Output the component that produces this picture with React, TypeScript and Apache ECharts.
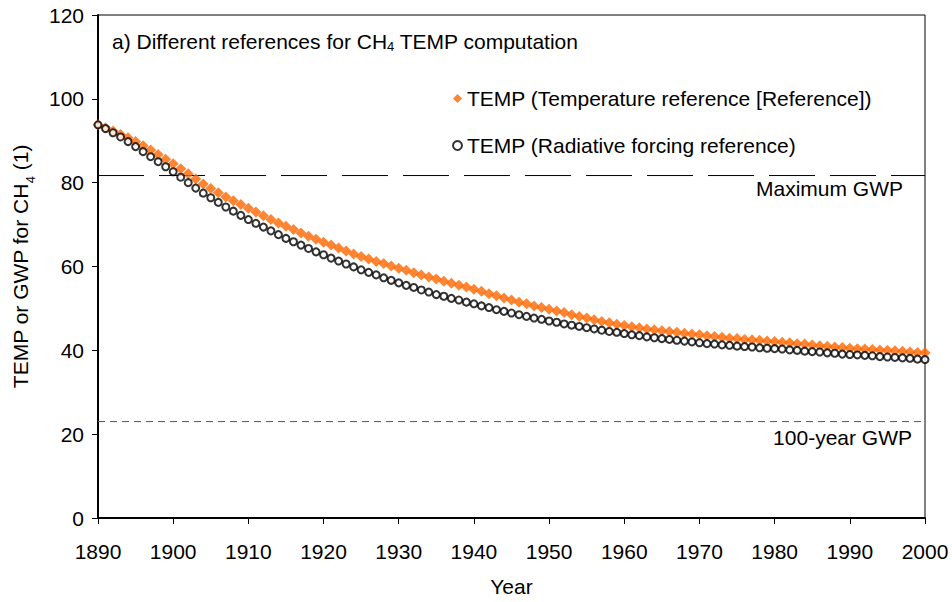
import React, { useEffect, useRef } from "react";
import * as echarts from "echarts";

const years = [
  1890, 1891, 1892, 1893, 1894, 1895, 1896, 1897, 1898, 1899,
  1900, 1901, 1902, 1903, 1904, 1905, 1906, 1907, 1908, 1909,
  1910, 1911, 1912, 1913, 1914, 1915, 1916, 1917, 1918, 1919,
  1920, 1921, 1922, 1923, 1924, 1925, 1926, 1927, 1928, 1929,
  1930, 1931, 1932, 1933, 1934, 1935, 1936, 1937, 1938, 1939,
  1940, 1941, 1942, 1943, 1944, 1945, 1946, 1947, 1948, 1949,
  1950, 1951, 1952, 1953, 1954, 1955, 1956, 1957, 1958, 1959,
  1960, 1961, 1962, 1963, 1964, 1965, 1966, 1967, 1968, 1969,
  1970, 1971, 1972, 1973, 1974, 1975, 1976, 1977, 1978, 1979,
  1980, 1981, 1982, 1983, 1984, 1985, 1986, 1987, 1988, 1989,
  1990, 1991, 1992, 1993, 1994, 1995, 1996, 1997, 1998, 1999,
  2000,
];

// TEMP (Temperature reference [Reference])
const tempReference = [
  93.8, 93.1, 92.3, 91.5, 90.7, 89.8, 88.8, 87.8, 86.7, 85.6,
  84.5, 83.3, 82.1, 80.9, 79.7, 78.6, 77.6, 76.6, 75.7, 74.8,
  73.9, 73.0, 72.1, 71.2, 70.4, 69.6, 68.8, 68.0, 67.2, 66.5,
  65.8, 65.1, 64.4, 63.7, 63.0, 62.4, 61.8, 61.2, 60.7, 60.1,
  59.6, 59.1, 58.5, 58.0, 57.5, 57.0, 56.5, 56.0, 55.5, 55.1,
  54.6, 54.1, 53.5, 53.0, 52.5, 52.0, 51.5, 51.1, 50.6, 50.2,
  49.8, 49.4, 49.0, 48.5, 48.1, 47.7, 47.3, 46.9, 46.6, 46.2,
  45.9, 45.6, 45.4, 45.1, 44.9, 44.7, 44.5, 44.3, 44.1, 43.9,
  43.7, 43.5, 43.3, 43.1, 42.9, 42.8, 42.6, 42.5, 42.4, 42.2,
  42.1, 41.9, 41.8, 41.6, 41.5, 41.3, 41.1, 41.0, 40.8, 40.7,
  40.5, 40.4, 40.3, 40.2, 40.1, 40.0, 39.9, 39.8, 39.6, 39.5,
  39.4,
];

// TEMP (Radiative forcing reference)
const tempForcing = [
  93.8, 92.9, 91.9, 90.9, 89.8, 88.6, 87.4, 86.2, 85.0, 83.8,
  82.6, 81.3, 80.0, 78.7, 77.5, 76.4, 75.3, 74.2, 73.2, 72.2,
  71.2, 70.3, 69.4, 68.5, 67.6, 66.7, 65.9, 65.1, 64.3, 63.5,
  62.8, 62.0, 61.3, 60.6, 59.9, 59.2, 58.6, 58.0, 57.3, 56.7,
  56.1, 55.5, 55.0, 54.4, 53.9, 53.3, 52.9, 52.4, 52.0, 51.5,
  51.1, 50.6, 50.2, 49.7, 49.3, 48.9, 48.5, 48.1, 47.7, 47.4,
  47.0, 46.7, 46.3, 46.0, 45.7, 45.4, 45.1, 44.8, 44.5, 44.3,
  44.0, 43.7, 43.5, 43.2, 43.0, 42.8, 42.6, 42.4, 42.2, 42.0,
  41.8, 41.6, 41.5, 41.3, 41.2, 41.0, 40.9, 40.8, 40.6, 40.5,
  40.4, 40.3, 40.1, 40.0, 39.8, 39.7, 39.6, 39.4, 39.3, 39.1,
  39.0, 38.9, 38.8, 38.7, 38.5, 38.4, 38.3, 38.2, 38.1, 37.9,
  37.8,
];

const refLineYears = [1890, 2000];
const maxGWP = 81.7;
const gwp100 = 23;

const seriesNames = [
  "TEMP (Temperature reference [Reference])",
  "TEMP (Radiative forcing reference)",
];

const FONT = "'Liberation Sans', Arial, Helvetica, sans-serif";
const FS = 21;

export default function App() {
  const ref = useRef<HTMLDivElement>(null);

  useEffect(() => {
    if (!ref.current) return;
    const chart = echarts.init(ref.current, undefined, { renderer: "svg" });
    const pair = (vals: number[]) => years.map((y, i) => [y, vals[i]]);

    chart.setOption({
      animation: false,
      backgroundColor: "#ffffff",
      textStyle: { fontFamily: FONT, color: "#000" },
      grid: {
        left: 98,
        right: 27,
        top: 15,
        bottom: 77,
        show: true,
        borderColor: "#000",
        borderWidth: 1,
        backgroundColor: "transparent",
      },
      title: {
        text: "{a|a) Different references for CH}{s|4}{a| TEMP computation}",
        left: 107,
        top: 24,
        textStyle: {
          fontWeight: "normal",
          rich: {
            a: { fontSize: FS, fontFamily: FONT, color: "#000", lineHeight: 24, fontWeight: "normal" },
            s: {
              fontSize: 13,
              fontFamily: FONT,
              color: "#000",
              lineHeight: 13,
              verticalAlign: "bottom",
              fontWeight: "normal",
            },
          },
        },
      },
      legend: {
        orient: "vertical",
        left: 447,
        top: 83,
        itemWidth: 9,
        itemHeight: 9,
        itemGap: 26,
        data: seriesNames,
        textStyle: { fontSize: FS, fontFamily: FONT, color: "#000", lineHeight: 21 },
      },
      xAxis: {
        type: "value",
        min: 1890,
        max: 2000,
        interval: 10,
        name: "Year",
        nameLocation: "middle",
        nameGap: 58,
        nameTextStyle: { fontSize: FS, fontFamily: FONT, color: "#000" },
        axisLine: { show: true, onZero: false, lineStyle: { color: "#000", width: 2 } },
        axisTick: { show: true, length: 6, lineStyle: { color: "#000", width: 1 } },
        axisLabel: {
          fontSize: FS,
          fontFamily: FONT,
          color: "#000",
          margin: 23,
          formatter: (v: number) => String(v),
        },
        splitLine: { show: false },
      },
      yAxis: {
        type: "value",
        min: 0,
        max: 120,
        interval: 20,
        name: "TEMP or GWP for CH{s|4} (1)",
        nameLocation: "middle",
        nameGap: 67,
        nameTextStyle: {
          fontSize: FS,
          fontFamily: FONT,
          color: "#000",
          rich: {
            s: {
              fontSize: 13,
              fontFamily: FONT,
              color: "#000",
              lineHeight: 13,
              verticalAlign: "bottom",
              padding: [0, 0, -6, 0],
            },
          },
        },
        axisLine: { show: true, onZero: false, lineStyle: { color: "#000", width: 2 } },
        axisTick: { show: true, length: 6, lineStyle: { color: "#000", width: 1 } },
        axisLabel: { fontSize: FS, fontFamily: FONT, color: "#000", margin: 14 },
        splitLine: { show: false },
      },
      series: [
        {
          name: "maxGWP",
          type: "line",
          data: refLineYears.map((y) => [y, maxGWP]),
          symbol: "none",
          silent: true,
          lineStyle: { color: "#000", width: 1, type: [46, 15] },
          z: 1,
        },
        {
          name: "gwp100",
          type: "line",
          data: refLineYears.map((y) => [y, gwp100]),
          symbol: "none",
          silent: true,
          lineStyle: { color: "#555", width: 1, type: [7, 5] },
          z: 1,
        },
        {
          name: seriesNames[0],
          type: "scatter",
          data: pair(tempReference),
          symbol: "diamond",
          symbolSize: 11,
          itemStyle: { color: "#FF6600" },
          z: 2,
        },
        {
          name: seriesNames[1],
          type: "scatter",
          data: pair(tempForcing),
          symbol: "circle",
          symbolSize: 7,
          itemStyle: { color: "#ffffff", borderColor: "#000", borderWidth: 2 },
          z: 3,
        },
      ],
      graphic: [
        {
          type: "text",
          style: {
            x: 903,
            y: 188,
            text: "Maximum GWP",
            fill: "#000",
            font: `${FS}px ${FONT}`,
            textAlign: "right",
            textVerticalAlign: "middle",
          },
        },
        {
          type: "text",
          style: {
            x: 912,
            y: 437,
            text: "100-year GWP",
            fill: "#000",
            font: `${FS}px ${FONT}`,
            textAlign: "right",
            textVerticalAlign: "middle",
          },
        },
      ],
    });

    return () => chart.dispose();
  }, []);

  return (
    <div
      ref={ref}
      style={{ position: "fixed", left: 0, top: 0, width: 952, height: 602 }}
    />
  );
}
